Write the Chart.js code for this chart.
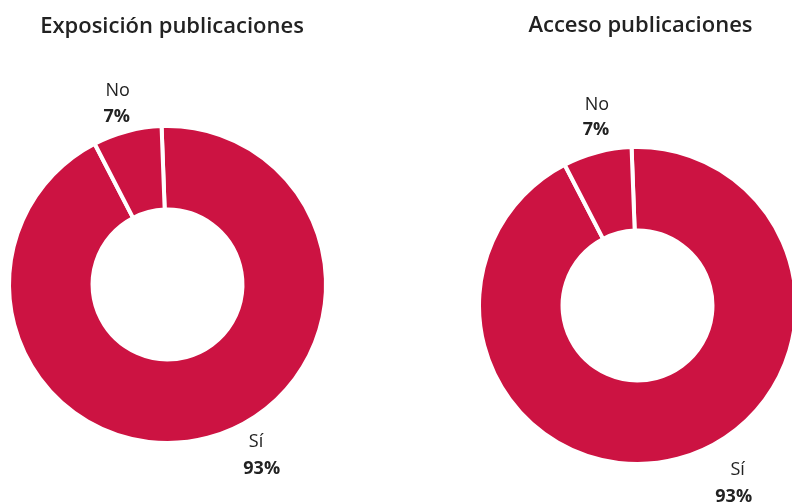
<!DOCTYPE html>
<html lang="es">
<head>
<meta charset="utf-8">
<title>Exposición y acceso a publicaciones</title>
<script src="https://cdn.jsdelivr.net/npm/chart.js@4.4.1/dist/chart.umd.min.js"></script>
<style>
  html, body { margin: 0; padding: 0; background: #ffffff; }
  body { width: 792px; height: 503px; position: relative; overflow: hidden; }
  .panel { position: absolute; top: 0; width: 396px; height: 503px; }
  #left { left: 0; }
  #right { left: 396px; }
</style>
</head>
<body>
<div class="panel" id="left"><canvas id="chartLeft" width="396" height="503"></canvas></div>
<div class="panel" id="right"><canvas id="chartRight" width="396" height="503"></canvas></div>
<script>
// Answers and their shares (%)
const categories = ['Sí', 'No'];
const exposicionValues = [93, 7];
const accesoValues = [93, 7];
const titles = ['Exposición publicaciones', 'Acceso publicaciones'];

const CRIMSON = '#CC1342';
const TEXT = '#222222';
const FONT = '"Open Sans", "Noto Sans", sans-serif';

// Title and slice labels, placed relative to the doughnut centre
const donutText = {
  id: 'donutText',
  afterDatasetsDraw(chart, args, opts) {
    const ctx = chart.ctx;
    const meta = chart.getDatasetMeta(0);
    const arc0 = meta.data[0];
    const cx = arc0.x, cy = arc0.y;
    const values = chart.data.datasets[0].data;
    ctx.save();
    ctx.fillStyle = TEXT;
    ctx.textAlign = 'center';
    ctx.textBaseline = 'alphabetic';
    ctx.font = '600 22px ' + FONT;
    ctx.fillText(opts.title, cx + opts.titleOffset[0], cy + opts.titleOffset[1]);
    chart.data.labels.forEach((lab, i) => {
      const o = opts.labelOffsets[i];
      ctx.font = '18px ' + FONT;
      ctx.fillText(lab, cx + o[0], cy + o[1]);
      ctx.font = 'bold 18px ' + FONT;
      ctx.fillText(values[i] + '%', cx + o[2], cy + o[3]);
    });
    ctx.restore();
  }
};

function makeDonut(canvasId, values, title, padding, textOpts) {
  return new Chart(document.getElementById(canvasId), {
    type: 'doughnut',
    data: {
      labels: categories,
      datasets: [{
        data: values,
        backgroundColor: [CRIMSON, CRIMSON],
        borderColor: '#ffffff',
        borderWidth: 4,
        hoverOffset: 0
      }]
    },
    options: {
      responsive: false,
      animation: false,
      events: [],
      radius: 158.5,
      cutout: '47.3%',
      rotation: -2.15,
      layout: { padding: padding },
      plugins: {
        legend: { display: false },
        tooltip: { enabled: false },
        title: { display: false },
        donutText: Object.assign({ title: title }, textOpts)
      }
    },
    plugins: [donutText]
  });
}

makeDonut('chartLeft', exposicionValues, titles[0],
  { left: 0, right: 61, top: 66, bottom: 0 },
  {
    titleOffset: [4.5, -251.5],
    labelOffsets: [[88.5, 162.8, 94.2, 189.5], [-49.8, -188.5, -50.8, -162.8]]
  });

makeDonut('chartRight', accesoValues, titles[1],
  { left: 87, right: 0, top: 108, bottom: 0 },
  {
    titleOffset: [3, -273.5],
    labelOffsets: [[100.2, 169.5, 96.2, 196.2], [-40.5, -195.5, -41.5, -170.5]]
  });
</script>
</body>
</html>
